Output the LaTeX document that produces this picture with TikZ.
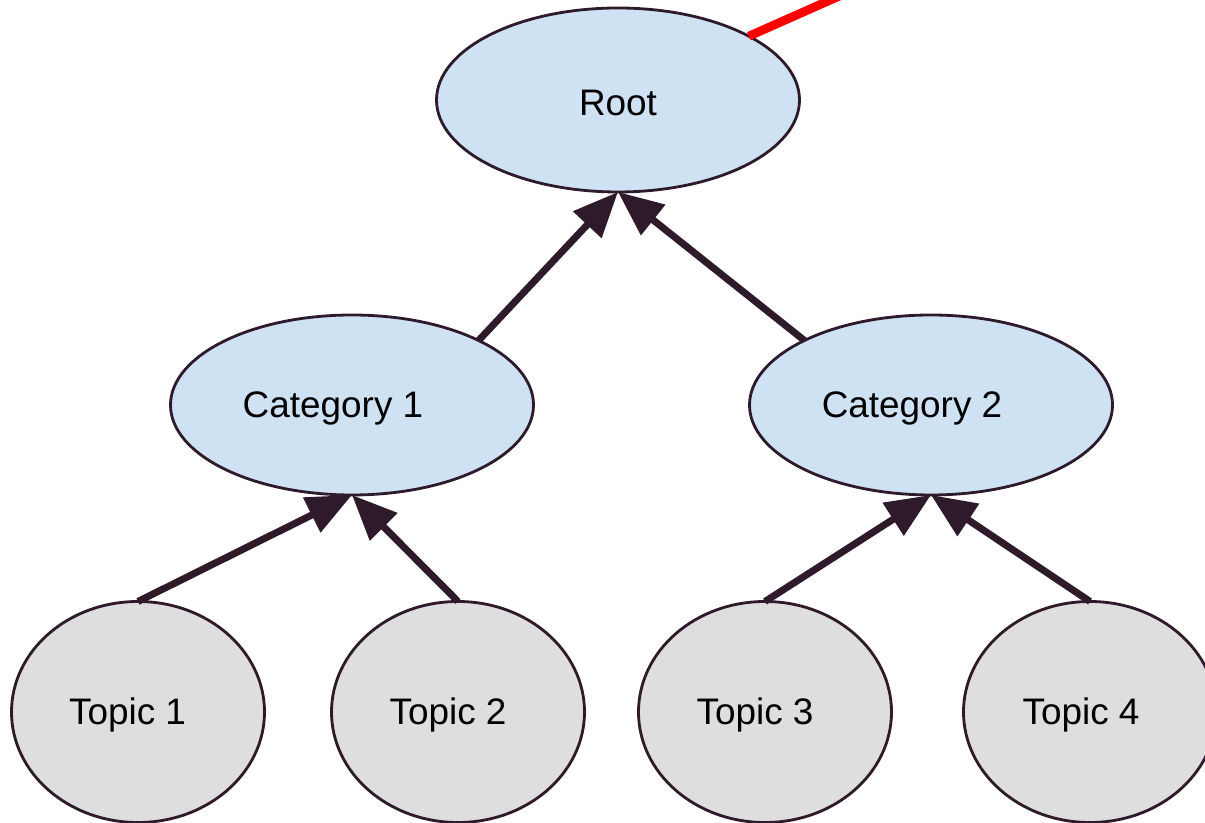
\documentclass[tikz,border=0pt]{standalone}
\usepackage{fontspec}
\setmainfont{Liberation Sans}
\usetikzlibrary{shapes.geometric,arrows.meta}

\definecolor{edgedark}{HTML}{2E1A2B}
\definecolor{nodeblue}{HTML}{CFE2F3}
\definecolor{nodegrey}{HTML}{DEDEDE}

\newcommand{\offtext}[2]{\raisebox{-0.06cm}[\height][\depth]{#2\hspace{#1}}}

\tikzset{
    upper/.style={ellipse, draw=edgedark, line width=1.6pt, fill=nodeblue, minimum width=7.26cm, minimum height=3.6cm, outer sep=0pt, font=\fontsize{21}{25}\selectfont},
    topic/.style={ellipse, draw=edgedark, line width=1.6pt, fill=nodegrey, minimum width=5.06cm, minimum height=4.42cm, outer sep=0pt, font=\fontsize{21}{25}\selectfont},
    link/.style={draw=edgedark, line width=4pt, -{Triangle[length=9mm,width=7.5mm]}}
}

\begin{document}
\begin{tikzpicture}
    \clip (0,0) rectangle (24.1,16.46);
    \useasboundingbox (0,0) rectangle (24.1,16.46);
    \node[upper, minimum height=3.68cm] (root) at (12.36,14.46) {\offtext{0cm}{Root}};
    \node[upper] (cat1) at (7.04,8.36) {\offtext{0.76cm}{Category 1}};
    \node[upper] (cat2) at (18.62,8.36) {\offtext{0.76cm}{Category 2}};
    \node[topic] (t1) at (2.76,2.22) {\offtext{0.42cm}{Topic 1}};
    \node[topic] (t2) at (9.16,2.22) {\offtext{0.4cm}{Topic 2}};
    \node[topic] (t3) at (15.30,2.22) {\offtext{0.4cm}{Topic 3}};
    \node[topic] (t4) at (21.80,2.22) {\offtext{0.36cm}{Topic 4}};
    \coordinate (off) at (17.6,16.9);
    \draw[red, line width=5pt] (root.26) -- (off);
    \draw[link] (cat1.27) -- (root.south);
    \draw[link] (cat2.153) -- (root.south);
    \draw[link] (t1.north) -- (cat1.south);
    \draw[link] (t2.north) -- (cat1.south);
    \draw[link] (t3.north) -- (cat2.south);
    \draw[link] (t4.north) -- (cat2.south);
\end{tikzpicture}
\end{document}
